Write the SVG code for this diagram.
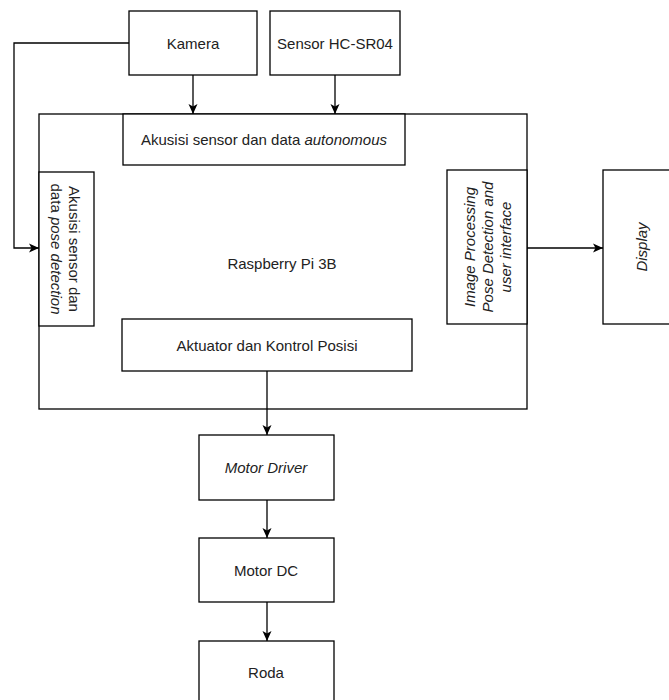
<svg xmlns="http://www.w3.org/2000/svg" width="669" height="700" viewBox="0 0 669 700">
<defs>
<marker id="arr" markerWidth="12" markerHeight="12" refX="11" refY="6" orient="auto" markerUnits="userSpaceOnUse">
<path d="M1,1.5 L11,6 L1,10.5 L3.5,6 Z" fill="#000"/>
</marker>
<style>
rect{fill:#fff;stroke:#000;stroke-width:1.3}
text{font-family:"Liberation Sans",Arial,sans-serif;font-size:15px;fill:#222;text-anchor:middle;dominant-baseline:central}
.it{font-style:italic}
.c{fill:none;stroke:#000;stroke-width:1.3;marker-end:url(#arr)}
</style>
</defs>
<rect x="0" y="0" width="669" height="700" style="fill:#fff;stroke:none"/>
<g id="raspberry">
<rect x="39" y="114" width="488" height="295"/>
<text x="282" y="263">Raspberry Pi 3B</text>
</g>
<g id="kamera">
<rect x="129" y="11" width="128" height="64"/>
<text x="193" y="43">Kamera</text>
</g>
<g id="sensor">
<rect x="270" y="11" width="130" height="64"/>
<text x="335" y="43">Sensor HC-SR04</text>
</g>
<g id="akusisi-auto">
<rect x="123" y="114" width="282" height="51"/>
<text x="264" y="139">Akusisi sensor dan data <tspan class="it">autonomous</tspan></text>
</g>
<g id="akusisi-pose">
<rect x="39" y="172" width="55" height="154"/>
<text transform="translate(66,249) rotate(90)"><tspan x="0" y="-9">Akusisi sensor dan</tspan><tspan x="0" y="9">data <tspan class="it">pose detection</tspan></tspan></text>
</g>
<g id="image-processing">
<rect x="447" y="170" width="80" height="154"/>
<text class="it" transform="translate(487,247) rotate(-90)"><tspan x="0" y="-18">Image Processing</tspan><tspan x="0" y="0">Pose Detection and</tspan><tspan x="0" y="18">user interface</tspan></text>
</g>
<g id="display">
<rect x="603" y="170" width="80" height="154"/>
<text class="it" transform="translate(641,247) rotate(-90)">Display</text>
</g>
<g id="aktuator">
<rect x="122" y="319" width="290" height="52"/>
<text x="267" y="345">Aktuator dan Kontrol Posisi</text>
</g>
<g id="motor-driver">
<rect x="199" y="435" width="135" height="65"/>
<text class="it" x="266" y="467">Motor Driver</text>
</g>
<g id="motor-dc">
<rect x="199" y="538" width="135" height="64"/>
<text x="266" y="570">Motor DC</text>
</g>
<g id="roda">
<rect x="199" y="641" width="135" height="64"/>
<text x="266" y="672">Roda</text>
</g>
<g id="connectors">
<path class="c" d="M193,75 V114"/>
<path class="c" d="M335,75 V114"/>
<path class="c" d="M129,43 H14 V248 H39"/>
<path class="c" d="M527,248 H603"/>
<path class="c" d="M267,371 V435"/>
<path class="c" d="M267,500 V538"/>
<path class="c" d="M267,602 V641"/>
</g>
</svg>
